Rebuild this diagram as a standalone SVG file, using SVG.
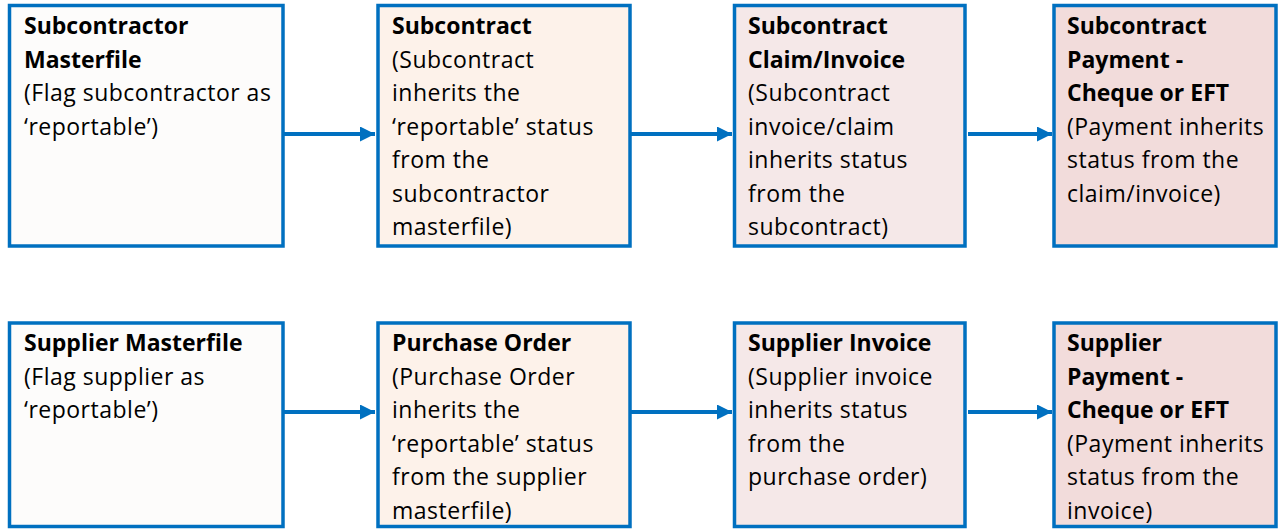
<svg xmlns="http://www.w3.org/2000/svg" width="1281" height="529" viewBox="0 0 1281 529">
<style>
.box{stroke:#0070c0;stroke-width:3.5}
.t{font-family:"Open Sans","Liberation Sans",Arial,sans-serif;font-size:23px;letter-spacing:0.5px;fill:#000}
.b{font-weight:bold;letter-spacing:0}
.c1{fill:#fdfcfb}.c2{fill:#fdf2ea}.c3{fill:#f5e8e8}.c4{fill:#f2dcdb}
.ar{stroke:#0070c0;stroke-width:4;fill:none}
</style>
<defs>
<marker id="ah" markerWidth="16" markerHeight="16" refX="15" refY="7.5" orient="auto" markerUnits="userSpaceOnUse">
<path d="M0,0 L15,7.5 L0,15 Z" fill="#0070c0"/>
</marker>
</defs>
<rect width="1281" height="529" fill="#fff"/>
<g id="connectors">
<line class="ar" x1="283" y1="134" x2="375" y2="134" marker-end="url(#ah)"/>
<line class="ar" x1="630" y1="134" x2="732" y2="134" marker-end="url(#ah)"/>
<line class="ar" x1="968" y1="134" x2="1052" y2="134" marker-end="url(#ah)"/>
<line class="ar" x1="283" y1="412" x2="375" y2="412" marker-end="url(#ah)"/>
<line class="ar" x1="630" y1="412" x2="732" y2="412" marker-end="url(#ah)"/>
<line class="ar" x1="968" y1="412" x2="1052" y2="412" marker-end="url(#ah)"/>
</g>
<g id="n1">
<rect class="box c1" x="9.5" y="5.5" width="273.5" height="240.5"/>
<text class="t"><tspan class="b" x="24" y="34">Subcontractor</tspan><tspan class="b" x="24" y="67.5">Masterfile</tspan><tspan x="24" y="101">(Flag subcontractor as</tspan><tspan x="24" y="134.5">‘reportable’)</tspan></text>
</g>
<g id="n2">
<rect class="box c2" x="378" y="5.5" width="252" height="240.5"/>
<text class="t"><tspan class="b" x="392" y="34">Subcontract</tspan><tspan x="392" y="67.5">(Subcontract</tspan><tspan x="392" y="101">inherits the</tspan><tspan x="392" y="134.5">‘reportable’ status</tspan><tspan x="392" y="168">from the</tspan><tspan x="392" y="201.5">subcontractor</tspan><tspan x="392" y="235">masterfile)</tspan></text>
</g>
<g id="n3">
<rect class="box c3" x="734.5" y="5.5" width="230.5" height="240.5"/>
<text class="t"><tspan class="b" x="748" y="34">Subcontract</tspan><tspan class="b" x="748" y="67.5">Claim/Invoice</tspan><tspan x="748" y="101">(Subcontract</tspan><tspan x="748" y="134.5">invoice/claim</tspan><tspan x="748" y="168">inherits status</tspan><tspan x="748" y="201.5">from the</tspan><tspan x="748" y="235">subcontract)</tspan></text>
</g>
<g id="n4">
<rect class="box c4" x="1054" y="5.5" width="222" height="240.5"/>
<text class="t"><tspan class="b" x="1067" y="34">Subcontract</tspan><tspan class="b" x="1067" y="67.5">Payment -</tspan><tspan class="b" x="1067" y="101">Cheque or EFT</tspan><tspan x="1067" y="134.5">(Payment inherits</tspan><tspan x="1067" y="168">status from the</tspan><tspan x="1067" y="201.5">claim/invoice)</tspan></text>
</g>
<g id="n5">
<rect class="box c1" x="9.5" y="323" width="273.5" height="203.5"/>
<text class="t"><tspan class="b" x="24" y="351">Supplier Masterfile</tspan><tspan x="24" y="384.5">(Flag supplier as</tspan><tspan x="24" y="418">‘reportable’)</tspan></text>
</g>
<g id="n6">
<rect class="box c2" x="378" y="323" width="252" height="203.5"/>
<text class="t"><tspan class="b" x="392" y="351">Purchase Order</tspan><tspan x="392" y="384.5">(Purchase Order</tspan><tspan x="392" y="418">inherits the</tspan><tspan x="392" y="451.5">‘reportable’ status</tspan><tspan x="392" y="485">from the supplier</tspan><tspan x="392" y="518.5">masterfile)</tspan></text>
</g>
<g id="n7">
<rect class="box c3" x="734.5" y="323" width="230.5" height="203.5"/>
<text class="t"><tspan class="b" x="748" y="351">Supplier Invoice</tspan><tspan x="748" y="384.5">(Supplier invoice</tspan><tspan x="748" y="418">inherits status</tspan><tspan x="748" y="451.5">from the</tspan><tspan x="748" y="485">purchase order)</tspan></text>
</g>
<g id="n8">
<rect class="box c4" x="1054" y="323" width="222" height="203.5"/>
<text class="t"><tspan class="b" x="1067" y="351">Supplier</tspan><tspan class="b" x="1067" y="384.5">Payment -</tspan><tspan class="b" x="1067" y="418">Cheque or EFT</tspan><tspan x="1067" y="451.5">(Payment inherits</tspan><tspan x="1067" y="485">status from the</tspan><tspan x="1067" y="518.5">invoice)</tspan></text>
</g>
</svg>
